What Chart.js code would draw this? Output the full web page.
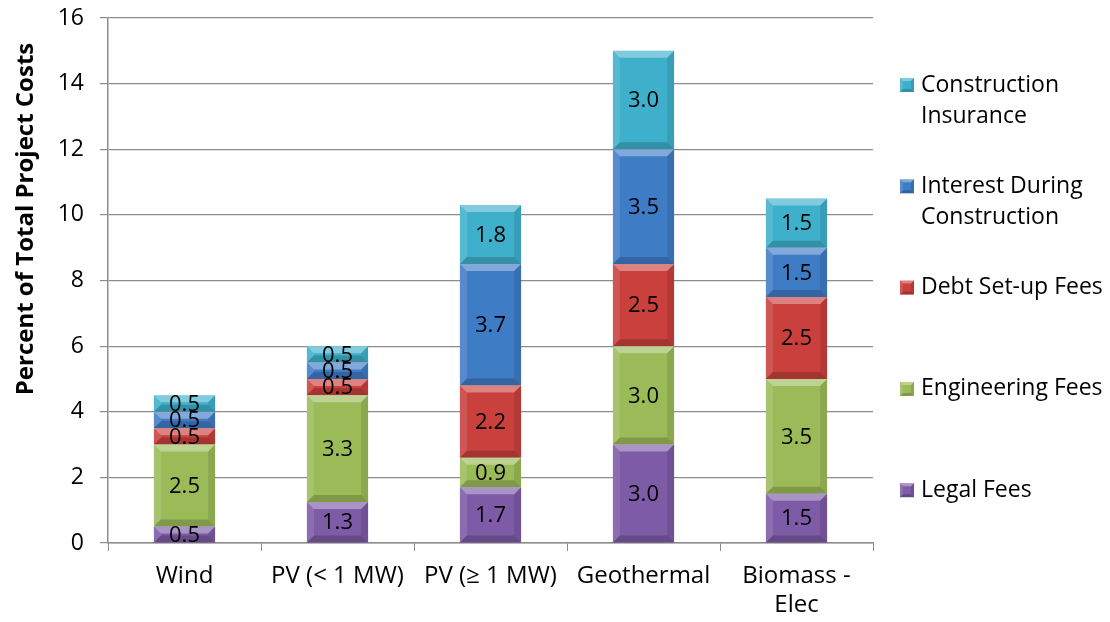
<!DOCTYPE html>
<html><head><meta charset="utf-8">
<script src="https://cdn.jsdelivr.net/npm/chart.js@4.4.0/dist/chart.umd.min.js"></script>
<style>html,body{margin:0;padding:0;background:#fff}</style>
</head><body>
<canvas id="c" width="1110" height="622"></canvas>
<script>
const categories = ['Wind', 'PV (< 1 MW)', 'PV (≥ 1 MW)', 'Geothermal', ['Biomass -', 'Elec']];
const legalFees = [0.5, 1.25, 1.7, 3.0, 1.5];
const engineeringFees = [2.5, 3.25, 0.9, 3.0, 3.5];
const debtSetupFees = [0.5, 0.5, 2.2, 2.5, 2.5];
const interestDuringConstruction = [0.5, 0.5, 3.7, 3.5, 1.5];
const constructionInsurance = [0.5, 0.5, 1.8, 3.0, 1.5];
const seriesNames = ['Legal Fees', 'Engineering Fees', 'Debt Set-up Fees', 'Interest During Construction', 'Construction Insurance'];
const legendLines = [['Legal Fees'], ['Engineering Fees'], ['Debt Set-up Fees'], ['Interest During', 'Construction'], ['Construction', 'Insurance']];
const seriesColors = ['#7d5ba6', '#9bbb59', '#c9403c', '#3f7cc6', '#3fb0cc'];
const yTitle = 'Percent of Total Project Costs';
const yMin = 0, yMax = 16, yStep = 2;

const FONT = '"Open Sans", Lato, sans-serif';

function shade(ctx, pts, color) {
  ctx.beginPath();
  ctx.moveTo(pts[0][0], pts[0][1]);
  for (let i = 1; i < pts.length; i++) ctx.lineTo(pts[i][0], pts[i][1]);
  ctx.closePath();
  ctx.fillStyle = color;
  ctx.fill();
}
function bevel(ctx, l, t, r, b, bw) {
  const h = b - t, w = r - l;
  bw = Math.min(bw, h / 2.2, w / 2.2);
  if (bw <= 0.5) return;
  shade(ctx, [[l, t], [r, t], [r - bw, t + bw], [l + bw, t + bw]], 'rgba(255,255,255,0.35)');
  shade(ctx, [[l, t], [l + bw, t + bw], [l + bw, b - bw], [l, b]], 'rgba(255,255,255,0.12)');
  shade(ctx, [[r, t], [r, b], [r - bw, b - bw], [r - bw, t + bw]], 'rgba(0,0,0,0.10)');
  shade(ctx, [[l, b], [l + bw, b - bw], [r - bw, b - bw], [r, b]], 'rgba(0,0,0,0.18)');
}

const bevelLabelPlugin = {
  id: 'bevelLabels',
  afterDatasetsDraw(chart) {
    const ctx = chart.ctx;
    ctx.save();
    chart.data.datasets.forEach((ds, di) => {
      const meta = chart.getDatasetMeta(di);
      meta.data.forEach(el => {
        const l = el.x - el.width / 2, r = el.x + el.width / 2;
        const t = Math.min(el.y, el.base), b = Math.max(el.y, el.base);
        bevel(ctx, l, t, r, b, 7);
      });
    });
    ctx.fillStyle = '#000';
    ctx.font = '22px ' + FONT;
    ctx.textAlign = 'center';
    ctx.textBaseline = 'middle';
    chart.data.datasets.forEach((ds, di) => {
      const meta = chart.getDatasetMeta(di);
      meta.data.forEach((el, i) => {
        ctx.fillText(ds.data[i].toFixed(1), el.x, (el.y + el.base) / 2 + 1);
      });
    });
    ctx.restore();
  }
};

const sideLegendPlugin = {
  id: 'sideLegend',
  afterDraw(chart) {
    const ctx = chart.ctx;
    ctx.save();
    ctx.font = '23px ' + FONT;
    ctx.textBaseline = 'middle';
    ctx.textAlign = 'left';
    const x0 = 900, y0 = 85, gap = 101.3, lh = 31;
    for (let k = 0; k < seriesNames.length; k++) {
      const di = seriesNames.length - 1 - k;
      const y = y0 + k * gap;
      ctx.fillStyle = chart.data.datasets[di].backgroundColor;
      ctx.fillRect(x0, y - 7, 14, 14);
      bevel(ctx, x0, y - 7, x0 + 14, y + 7, 3);
      ctx.fillStyle = '#000';
      legendLines[di].forEach((line, j) => ctx.fillText(line, 921, y + j * lh));
    }
    // axis title
    ctx.translate(26, 219);
    ctx.rotate(-Math.PI / 2);
    ctx.textAlign = 'center';
    ctx.font = 'bold 24px ' + FONT;
    ctx.fillText(yTitle, 0, 0);
    ctx.restore();
  }
};

const seriesData = [legalFees, engineeringFees, debtSetupFees, interestDuringConstruction, constructionInsurance];

new Chart(document.getElementById('c'), {
  type: 'bar',
  data: {
    labels: categories,
    datasets: seriesNames.map((n, i) => ({
      label: n,
      data: seriesData[i],
      backgroundColor: seriesColors[i],
      borderWidth: 0,
      categoryPercentage: 1.0,
      barPercentage: 0.4
    }))
  },
  options: {
    responsive: false,
    animation: false,
    devicePixelRatio: 1,
    layout: { padding: { top: 18, right: 237, left: 0, bottom: 0 } },
    plugins: { legend: { display: false }, tooltip: { enabled: false } },
    scales: {
      x: {
        stacked: true,
        grid: { offset: true, drawOnChartArea: false, drawTicks: true, tickLength: 8, color: '#8c8c8c' },
        border: { color: '#8c8c8c', width: 1.5 },
        ticks: { color: '#000', font: { family: FONT, size: 24, lineHeight: 1.2 }, padding: 11, maxRotation: 0, autoSkip: false },
        afterFit(s) { s.height = 79; s.paddingLeft = 0; s.paddingRight = 0; }
      },
      y: {
        stacked: true,
        min: yMin, max: yMax,
        grid: { color: '#8c8c8c', lineWidth: 1.2, tickLength: 8 },
        border: { color: '#8c8c8c', width: 1.5 },
        ticks: { stepSize: yStep, color: '#000', font: { family: FONT, size: 23 }, padding: 16 },
        title: { display: false },
        afterFit(s) { s.width = 108; s.paddingTop = 0; s.paddingBottom = 0; }
      }
    }
  },
  plugins: [bevelLabelPlugin, sideLegendPlugin]
});
</script>
</body></html>
